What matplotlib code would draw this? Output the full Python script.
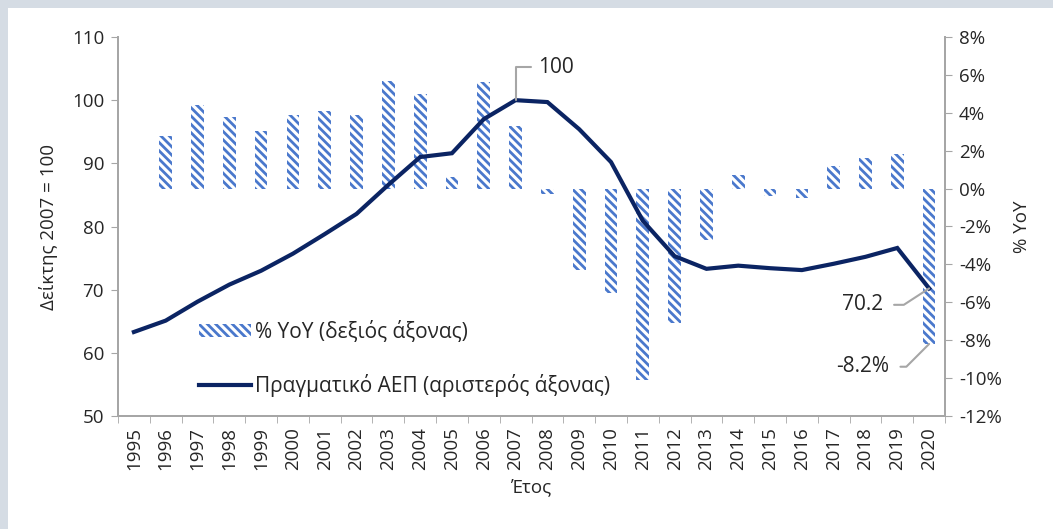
import numpy as np
import matplotlib.pyplot as plt
from matplotlib.patches import Patch, Rectangle
from matplotlib.lines import Line2D

plt.rcParams['font.family'] = ['Open Sans', 'DejaVu Sans']
plt.rcParams['hatch.linewidth'] = 2.0

years = [str(y) for y in range(1995, 2021)]
gdp_index = [63.3, 65.1, 68.1, 70.8, 73.0, 75.7, 78.8, 82.0, 86.6, 91.0,
             91.6, 97.0, 100.0, 99.7, 95.4, 90.2, 80.9, 75.3, 73.3, 73.8,
             73.4, 73.1, 74.1, 75.2, 76.6, 70.2]
yoy = [np.nan, 2.8, 4.4, 3.8, 3.05, 3.9, 4.1, 3.9, 5.7, 5.0,
       0.6, 5.6, 3.3, -0.3, -4.3, -5.5, -10.1, -7.1, -2.7, 0.7,
       -0.4, -0.5, 1.2, 1.6, 1.8, -8.2]

navy = '#0b2463'
blue = '#4a78cc'
grey = '#a6a6a6'
txt = '#262626'

fig = plt.figure(figsize=(10.53, 5.29), dpi=100)
# grey frame left / top
fig.patches.append(Rectangle((0, 0), 1, 1, transform=fig.transFigure,
                             facecolor='#d5dce4', zorder=-10))
fig.patches.append(Rectangle((8 / 1053, 0), 1, 1 - 8 / 529, transform=fig.transFigure,
                             facecolor='white', zorder=-9))

ax = fig.add_axes([118 / 1053, 1 - 416 / 529, (945 - 118) / 1053, (416 - 37) / 529])
ax.set_facecolor('none')
ax2 = ax.twinx()
ax.set_zorder(2)
ax2.set_zorder(1)

x = np.arange(len(years))

ax2.bar(x, yoy, width=0.4, facecolor='white', edgecolor=blue, hatch='\\\\\\\\', linewidth=0)
ax2.set_ylim(-12, 8)
ax2.set_yticks(np.arange(-12, 9, 2))
ax2.set_yticklabels([f'{v}%' for v in range(-12, 9, 2)])

ax.plot(x, gdp_index, color=navy, lw=3, solid_joinstyle='miter')
ax.set_ylim(50, 110)
ax.set_yticks(range(50, 111, 10))
ax.set_xlim(-0.5, len(years) - 0.5)
ax.set_xticks(x)
ax.set_xticklabels(years, rotation=90, fontsize=13.5, color=txt)
ax.set_xticks(np.arange(-0.5, len(years), 1), minor=True)
ax.tick_params(axis='x', which='major', length=0, pad=8)
ax.tick_params(axis='x', which='minor', length=5, color=grey)

for a in (ax, ax2):
    a.spines['top'].set_visible(False)
    for s in ('left', 'right', 'bottom'):
        a.spines[s].set_color(grey)
        a.spines[s].set_linewidth(1.3)
    a.tick_params(axis='y', length=5, color=grey, labelsize=13.5, labelcolor=txt, pad=5)

ax.set_ylabel('Δείκτης 2007 = 100', fontsize=13.5, color=txt, labelpad=10)
ax2.set_ylabel('% YoY', fontsize=13.5, color=txt, labelpad=8)
ax.set_xlabel('Έτος', fontsize=13.5, color=txt, labelpad=6)

# annotations
lc = '#a6a6a6'
i07 = years.index('2007')
ax.annotate('100', xy=(i07, gdp_index[i07]), xytext=(i07 + 0.7, 105.2),
            fontsize=15, color=txt, va='center', ha='left',
            arrowprops=dict(arrowstyle='-', color=lc, lw=1.5,
                            connectionstyle='angle,angleA=0,angleB=90,rad=0',
                            shrinkA=3, shrinkB=0))
i20 = years.index('2020')
ax.annotate('70.2', xy=(i20, gdp_index[i20]), xytext=(i20 - 1.45, 67.6),
            fontsize=15, color=txt, va='center', ha='right',
            arrowprops=dict(arrowstyle='-', color=lc, lw=1.5,
                            connectionstyle='angle,angleA=0,angleB=33,rad=0',
                            shrinkA=6, shrinkB=0))
ax2.annotate('-8.2%', xy=(i20, yoy[i20]), xytext=(i20 - 1.25, -9.4),
             fontsize=15, color=txt, va='center', ha='right',
             arrowprops=dict(arrowstyle='-', color=lc, lw=1.5,
                             connectionstyle='angle,angleA=0,angleB=45,rad=0',
                             shrinkA=6, shrinkB=0))

handles = [Patch(facecolor='white', edgecolor=blue, hatch='\\\\\\\\', linewidth=0),
           Line2D([], [], color=navy, lw=3)]
labels = ['% YoY (δεξιός άξονας)', 'Πραγματικό ΑΕΠ (αριστερός άξονας)']
ax.legend(handles, labels, loc='lower left', bbox_to_anchor=(0.075, 0.0),
          frameon=False, fontsize=15, handlelength=2.5, handleheight=0.6,
          labelspacing=1.5, handletextpad=0.2, labelcolor=txt)

plt.savefig('out.png', dpi=100)
